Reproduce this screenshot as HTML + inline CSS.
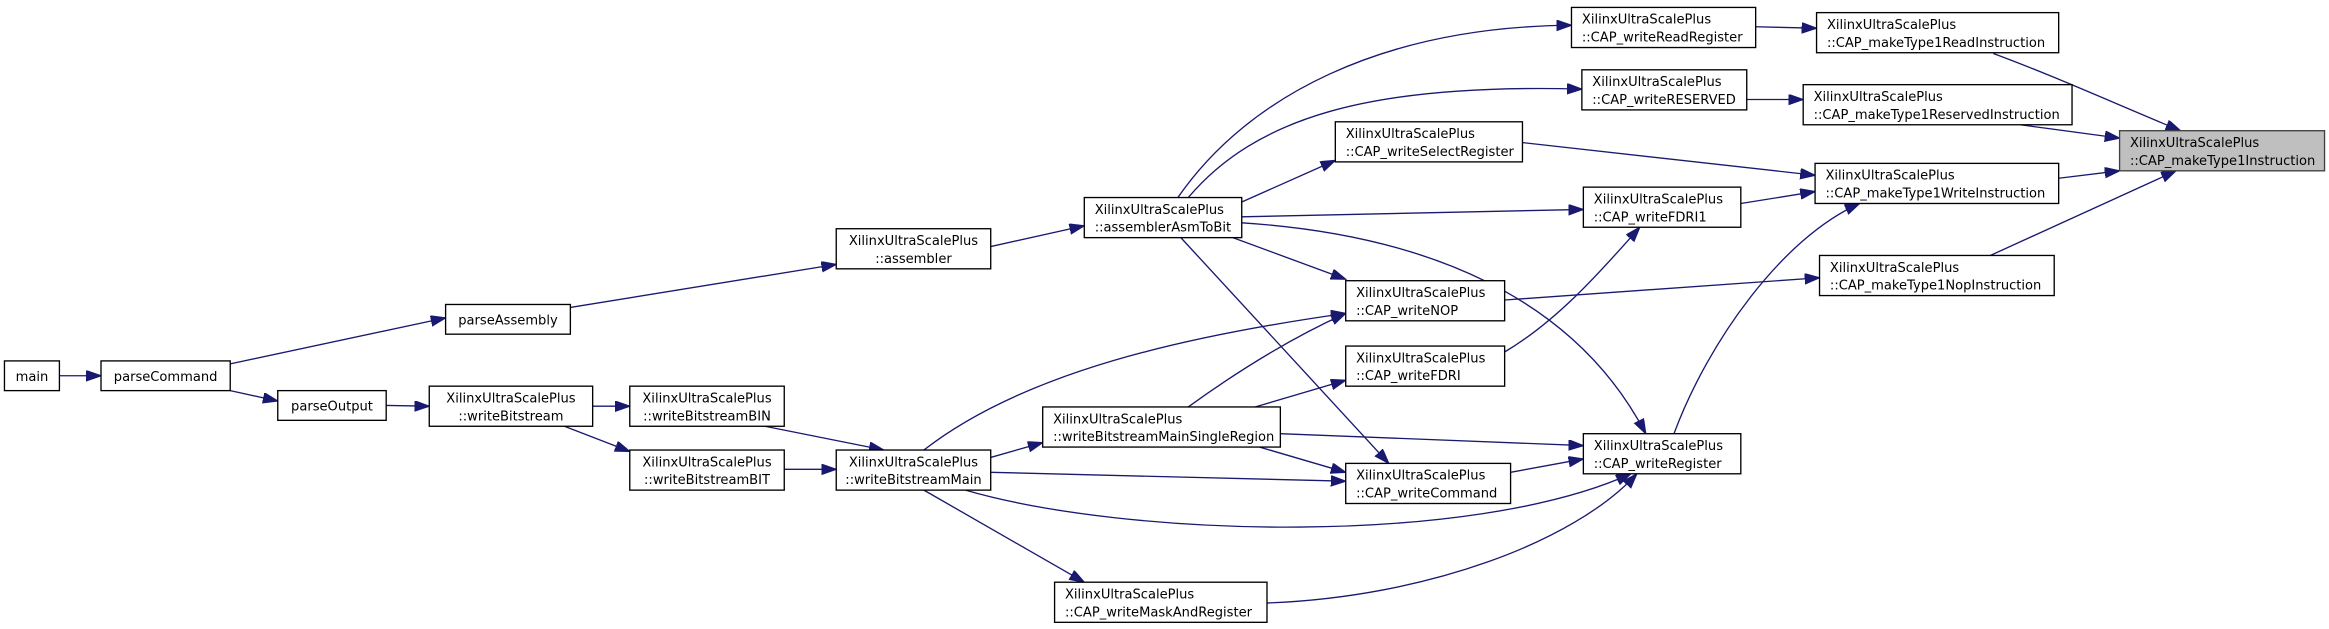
<!DOCTYPE html>
<html><head><meta charset="utf-8"><style>
html,body{margin:0;padding:0;background:#fff;}
svg{display:block;}
text{font-family:"DejaVu Sans","Liberation Sans",sans-serif;font-size:8.8px;fill:#000;}
.n{fill:#fff;stroke:#000;stroke-width:0.9;}
.e{fill:none;stroke:#191970;stroke-width:0.9;marker-end:url(#a);}
</style></head><body>
<svg width="2329" height="629" viewBox="0 0 1568 423.5" preserveAspectRatio="none" xmlns="http://www.w3.org/2000/svg">
<defs><marker id="a" markerUnits="userSpaceOnUse" markerWidth="11" markerHeight="8" refX="10" refY="3.5" orient="auto"><path d="M0,0 L10,3.5 L0,7 z" fill="#191970" stroke="#191970" stroke-width="0.8"/></marker></defs>

<path class="e" d="M40,253 L68,253"/>
<path class="e" d="M155,245 L300,214"/>
<path class="e" d="M155,263 L187,270"/>
<path class="e" d="M260,273 L289,273.5"/>
<path class="e" d="M399,273.5 L424,273.5"/>
<path class="e" d="M380,287 L424,304"/>
<path class="e" d="M515,287 L595,303"/>
<path class="e" d="M528,316 L563,316"/>
<path class="e" d="M384,207 L563,178"/>
<path class="e" d="M667,166 L730,152"/>
<path class="e" d="M793,133 C840,65 930,18 1058,17"/>
<path class="e" d="M800,133 C845,80 920,56 1065,60"/>
<path class="e" d="M836,136 L899,108"/>
<path class="e" d="M836,146 L1066,141"/>
<path class="e" d="M830,160 L906,188"/>
<path class="e" d="M795,160 L935,312"/>
<path class="e" d="M836,150 C960,158 1060,200 1108,292"/>
<path class="e" d="M667,308 L702,298"/>
<path class="e" d="M622,303 C690,250 800,226 906,211"/>
<path class="e" d="M667,318 L906,324"/>
<path class="e" d="M650,330 C760,362 990,368 1098,319"/>
<path class="e" d="M622,330 L730,392"/>
<path class="e" d="M800,274 C840,245 875,225 906,211"/>
<path class="e" d="M845,274 L906,256"/>
<path class="e" d="M862,292 L1066,300"/>
<path class="e" d="M848,301 L906,318"/>
<path class="e" d="M1017,318 L1066,309"/>
<path class="e" d="M853,406 C960,402 1060,365 1102,319"/>
<path class="e" d="M1127,292 C1150,230 1200,160 1252,137"/>
<path class="e" d="M1013,237 C1050,215 1080,180 1104,153"/>
<path class="e" d="M1172,137 L1222,129"/>
<path class="e" d="M1025,96 L1222,118"/>
<path class="e" d="M1013,202 L1225,187"/>
<path class="e" d="M1182,18 L1223,19"/>
<path class="e" d="M1176,67 L1214,67"/>
<path class="e" d="M1342,36 C1380,50 1420,68 1468,88"/>
<path class="e" d="M1360,84 L1427,93"/>
<path class="e" d="M1386,120 L1427,115"/>
<path class="e" d="M1340,172 L1465,115"/>

<rect class="n" x="3" y="243" width="37" height="20"/><text x="21.5" y="256.5" text-anchor="middle">main</text>
<rect class="n" x="68" y="243" width="87" height="20"/><text x="111.5" y="256.5" text-anchor="middle">parseCommand</text>
<rect class="n" x="300" y="205" width="84" height="20"/><text x="342" y="218.5" text-anchor="middle">parseAssembly</text>
<rect class="n" x="187" y="263" width="73" height="20"/><text x="223.5" y="276.5" text-anchor="middle">parseOutput</text>

<g>
<rect class="n" x="289" y="260" width="110" height="27"/><text x="344" y="271" text-anchor="middle">XilinxUltraScalePlus</text><text x="344" y="283" text-anchor="middle">::writeBitstream</text>
<rect class="n" x="424" y="260" width="104" height="27"/><text x="476" y="271" text-anchor="middle">XilinxUltraScalePlus</text><text x="476" y="283" text-anchor="middle">::writeBitstreamBIN</text>
<rect class="n" x="424" y="303" width="104" height="27"/><text x="476" y="314" text-anchor="middle">XilinxUltraScalePlus</text><text x="476" y="326" text-anchor="middle">::writeBitstreamBIT</text>
<rect class="n" x="563" y="154" width="104" height="27"/><text x="615" y="165" text-anchor="middle">XilinxUltraScalePlus</text><text x="615" y="177" text-anchor="middle">::assembler</text>
<rect class="n" x="563" y="303" width="104" height="27"/><text x="615" y="314" text-anchor="middle">XilinxUltraScalePlus</text><text x="615" y="326" text-anchor="middle">::writeBitstreamMain</text>
<rect class="n" x="730" y="133" width="106" height="27"/><text x="737" y="144">XilinxUltraScalePlus</text><text x="737" y="156">::assemblerAsmToBit</text>
<rect class="n" x="702" y="274" width="160" height="27"/><text x="709" y="285">XilinxUltraScalePlus</text><text x="709" y="297">::writeBitstreamMainSingleRegion</text>
<rect class="n" x="710" y="392" width="143" height="27"/><text x="717" y="403">XilinxUltraScalePlus</text><text x="717" y="415">::CAP_writeMaskAndRegister</text>
<rect class="n" x="899" y="82" width="126" height="27"/><text x="906" y="93">XilinxUltraScalePlus</text><text x="906" y="105">::CAP_writeSelectRegister</text>
<rect class="n" x="906" y="189" width="107" height="27"/><text x="913" y="200">XilinxUltraScalePlus</text><text x="913" y="212">::CAP_writeNOP</text>
<rect class="n" x="906" y="233" width="107" height="27"/><text x="913" y="244">XilinxUltraScalePlus</text><text x="913" y="256">::CAP_writeFDRI</text>
<rect class="n" x="906" y="312" width="111" height="27"/><text x="913" y="323">XilinxUltraScalePlus</text><text x="913" y="335">::CAP_writeCommand</text>
<rect class="n" x="1058" y="5" width="124" height="27"/><text x="1065" y="16">XilinxUltraScalePlus</text><text x="1065" y="28">::CAP_writeReadRegister</text>
<rect class="n" x="1065" y="47" width="111" height="27"/><text x="1072" y="58">XilinxUltraScalePlus</text><text x="1072" y="70">::CAP_writeRESERVED</text>
<rect class="n" x="1066" y="126" width="106" height="27"/><text x="1073" y="137">XilinxUltraScalePlus</text><text x="1073" y="149">::CAP_writeFDRI1</text>
<rect class="n" x="1066" y="292" width="106" height="27"/><text x="1073" y="303">XilinxUltraScalePlus</text><text x="1073" y="315">::CAP_writeRegister</text>
<rect class="n" x="1223" y="8.5" width="163" height="27"/><text x="1230" y="19.5">XilinxUltraScalePlus</text><text x="1230" y="31.5">::CAP_makeType1ReadInstruction</text>
<rect class="n" x="1214" y="57" width="181" height="27"/><text x="1221" y="68">XilinxUltraScalePlus</text><text x="1221" y="80">::CAP_makeType1ReservedInstruction</text>
<rect class="n" x="1222" y="110" width="164" height="27"/><text x="1229" y="121">XilinxUltraScalePlus</text><text x="1229" y="133">::CAP_makeType1WriteInstruction</text>
<rect class="n" x="1225" y="172" width="158" height="27"/><text x="1232" y="183">XilinxUltraScalePlus</text><text x="1232" y="195">::CAP_makeType1NopInstruction</text>
<rect x="1427" y="88" width="138" height="27" fill="#bfbfbf" stroke="#404040" stroke-width="0.9"/><text x="1434" y="99">XilinxUltraScalePlus</text><text x="1434" y="111">::CAP_makeType1Instruction</text>
</g>
</svg>
</body></html>
